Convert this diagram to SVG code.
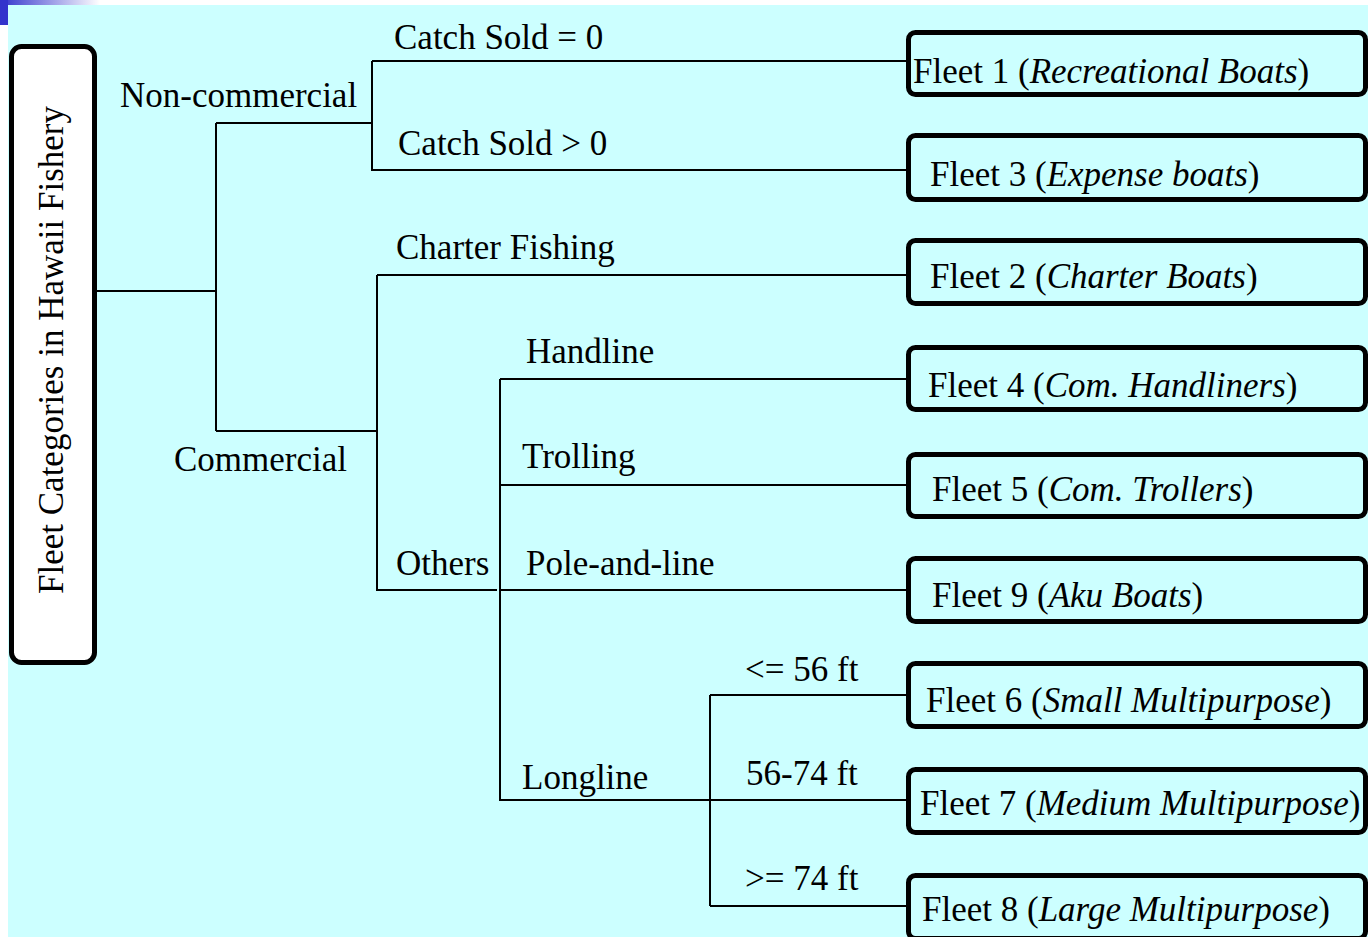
<svg xmlns="http://www.w3.org/2000/svg" width="1368" height="937" viewBox="0 0 1368 937">
  <defs>
    <linearGradient id="barFade" x1="0" y1="0" x2="1" y2="0">
      <stop offset="0" stop-color="#3333CC"/>
      <stop offset="1" stop-color="#FFFFFF"/>
    </linearGradient>
    <style>
      text { font-family: "Liberation Serif", "Times New Roman", serif; font-size: 35px; fill: #000; }
      .it { font-style: italic; }
      .fleet { fill: #CCFFFF; stroke: #000; stroke-width: 5; }
      .root { fill: #FFFFFF; stroke: #000; stroke-width: 5; }
      .conn line { stroke: #000; stroke-width: 2; }
    </style>
  </defs>

  <!-- page background and slide accent -->
  <rect x="0" y="0" width="1368" height="937" fill="#FFFFFF"/>
  <rect x="8" y="5" width="1360" height="932" fill="#CCFFFF"/>
  <rect x="0" y="0" width="100" height="5" fill="url(#barFade)"/>
  <rect x="0" y="0" width="8" height="25" fill="#3333CC"/>

  <!-- tree connectors -->
  <g id="connectors" class="conn">
    <line x1="97" y1="291" x2="215" y2="291"/>
    <line x1="216" y1="123" x2="216" y2="431"/>
    <line x1="216" y1="123" x2="371" y2="123"/>
    <line x1="216" y1="431" x2="376" y2="431"/>
    <line x1="372" y1="61" x2="372" y2="171"/>
    <line x1="372" y1="61" x2="907" y2="61"/>
    <line x1="372" y1="170" x2="907" y2="170"/>
    <line x1="377" y1="275" x2="377" y2="591"/>
    <line x1="377" y1="275" x2="907" y2="275"/>
    <line x1="377" y1="590" x2="497" y2="590"/>
    <line x1="500" y1="379" x2="500" y2="801"/>
    <line x1="500" y1="379" x2="907" y2="379"/>
    <line x1="500" y1="485" x2="907" y2="485"/>
    <line x1="500" y1="590" x2="907" y2="590"/>
    <line x1="500" y1="800" x2="907" y2="800"/>
    <line x1="710" y1="695" x2="710" y2="906"/>
    <line x1="710" y1="695" x2="907" y2="695"/>
    <line x1="710" y1="906" x2="907" y2="906"/>
  </g>

  <!-- branch labels -->
  <g id="labels">
    <text x="394" y="49">Catch Sold = 0</text>
    <text x="120" y="107">Non-commercial</text>
    <text x="398" y="155">Catch Sold &gt; 0</text>
    <text x="396" y="259">Charter Fishing</text>
    <text x="526" y="363">Handline</text>
    <text x="522" y="468">Trolling</text>
    <text x="174" y="471">Commercial</text>
    <text x="396" y="575">Others</text>
    <text x="526" y="575">Pole-and-line</text>
    <text x="745" y="681">&lt;= 56 ft</text>
    <text x="522" y="789">Longline</text>
    <text x="746" y="785">56-74 ft</text>
    <text x="745" y="890">&gt;= 74 ft</text>
  </g>

  <!-- root node -->
  <g id="root">
    <rect class="root" x="11.5" y="46.5" width="83" height="616" rx="10"/>
    <text transform="translate(63 350) rotate(-90)" text-anchor="middle">Fleet Categories in Hawaii Fishery</text>
  </g>

  <!-- fleet leaves -->
  <g id="fleet1">
    <rect class="fleet" x="908.5" y="32.5" width="457" height="62" rx="7"/>
    <text x="913" y="83">Fleet 1 (<tspan class="it">Recreational Boats</tspan>)</text>
  </g>
  <g id="fleet3">
    <rect class="fleet" x="908.5" y="135.5" width="457" height="64" rx="7"/>
    <text x="930" y="186">Fleet 3 (<tspan class="it">Expense boats</tspan>)</text>
  </g>
  <g id="fleet2">
    <rect class="fleet" x="908.5" y="240.5" width="457" height="63" rx="7"/>
    <text x="930" y="288">Fleet 2 (<tspan class="it">Charter Boats</tspan>)</text>
  </g>
  <g id="fleet4">
    <rect class="fleet" x="908.5" y="347.5" width="457" height="62" rx="7"/>
    <text x="928" y="397">Fleet 4 (<tspan class="it">Com. Handliners</tspan>)</text>
  </g>
  <g id="fleet5">
    <rect class="fleet" x="908.5" y="454.5" width="457" height="62" rx="7"/>
    <text x="932" y="501">Fleet 5 (<tspan class="it">Com. Trollers</tspan>)</text>
  </g>
  <g id="fleet9">
    <rect class="fleet" x="908.5" y="558.5" width="457" height="63" rx="7"/>
    <text x="932" y="607">Fleet 9 (<tspan class="it">Aku Boats</tspan>)</text>
  </g>
  <g id="fleet6">
    <rect class="fleet" x="908.5" y="663.5" width="457" height="63" rx="7"/>
    <text x="926" y="712">Fleet 6 (<tspan class="it">Small Multipurpose</tspan>)</text>
  </g>
  <g id="fleet7">
    <rect class="fleet" x="908.5" y="769.5" width="457" height="63" rx="7"/>
    <text x="920" y="815">Fleet 7 (<tspan class="it">Medium Multipurpose</tspan>)</text>
  </g>
  <g id="fleet8">
    <rect class="fleet" x="908.5" y="875.5" width="457" height="63" rx="7"/>
    <text x="922" y="921">Fleet 8 (<tspan class="it">Large Multipurpose</tspan>)</text>
  </g>
</svg>
